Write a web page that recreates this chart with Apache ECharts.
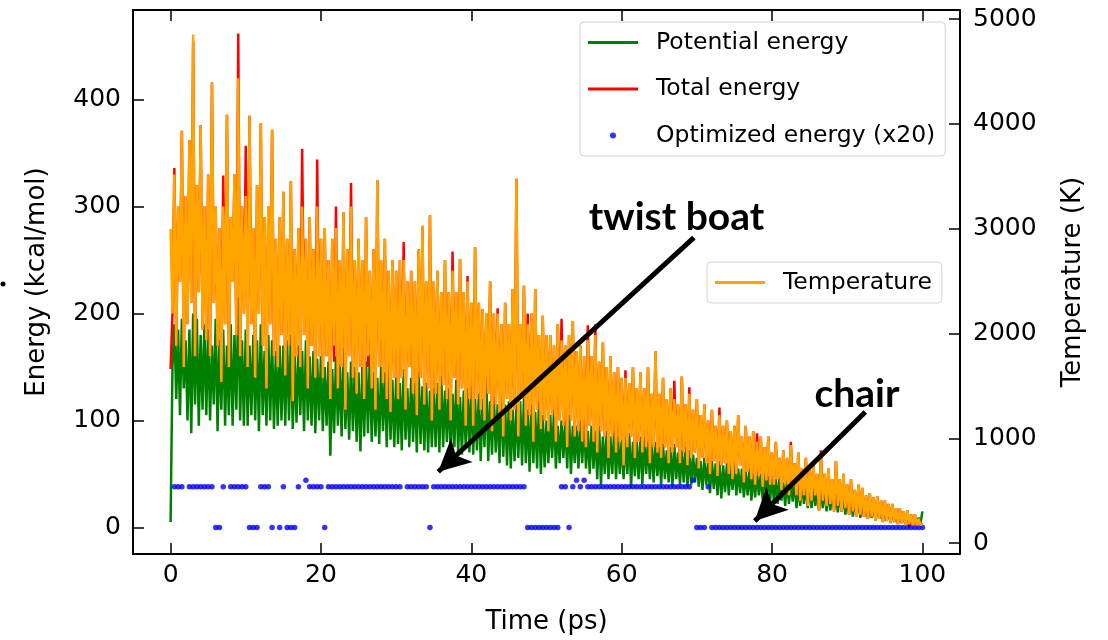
<!DOCTYPE html>
<html><head><meta charset="utf-8">
<script src="https://cdn.jsdelivr.net/npm/echarts@6/dist/echarts.min.js"></script>
<style>html,body{margin:0;padding:0;background:#fff}#c{width:1108px;height:640px}</style>
</head><body><div id="c"></div>
<script>
// Tick labels
const timeTicks = [0, 20, 40, 60, 80, 100];
const energyTicks = [0, 100, 200, 300, 400];
const tempTicks = [0, 1000, 2000, 3000, 4000, 5000];

// Line series sampled every 0.25 ps, 0..100 ps (each row = 5 ps)
const potentialEnergy = [
5,150,190,120,185,105,195,130,175,100,185,88,200,115,195,95,180,110,190,105,
185,100,170,115,195,90,175,110,185,95,170,105,190,95,180,110,215,100,175,95,
185,95,170,105,180,100,175,90,190,105,165,95,180,100,175,92,165,95,170,100,
170,95,175,100,180,92,160,98,170,105,165,90,175,100,160,95,165,88,158,100,
160,90,150,95,155,67,148,88,160,95,152,85,168,92,145,82,155,90,150,80,
145,71,150,85,155,88,162,80,145,85,140,78,150,90,145,75,152,82,138,75,
140,78,135,72,148,82,130,75,140,80,135,70,145,78,132,72,135,70,128,75,
130,75,135,70,142,75,128,80,130,68,125,75,138,70,122,68,128,75,130,70,
132,68,120,72,125,62,120,75,140,62,118,68,122,70,115,60,128,66,115,58,
118,55,110,62,115,65,118,58,122,60,110,52,115,60,108,55,118,50,105,56,
100,60,105,65,110,55,95,60,100,65,100,55,105,50,95,60,95,55,100,60,
100,55,90,50,95,55,90,45,95,40,85,50,90,45,85,50,90,45,85,50,
82,45,85,50,88,38,80,48,80,45,85,40,85,50,80,45,78,42,80,48,
75,40,78,45,72,42,75,38,78,45,70,40,72,42,75,38,72,40,68,42,
65,38,62,35,65,40,60,32,62,36,60,30,62,27,58,33,60,30,58,35,
60,30,55,32,55,28,52,30,55,25,50,28,52,30,50,26,52,28,48,25,
48,24,45,22,48,25,42,20,45,22,44,24,45,18,40,20,42,22,40,18,
40,18,38,20,36,16,38,18,36,15,35,16,34,17,32,14,32,15,30,12,
28,12,27,10,26,11,25,9,24,10,22,8,22,9,20,7,20,8,18,6,
17,6,16,5,15,5,14,4,13,4,12,3,12,3,10,3,10,3,9,4,
15];
const totalEnergy = [
148,200,336,170,300,230,371,150,310,190,362,210,455,160,320,220,376,185,300,175,
330,160,416,210,300,170,280,136,329,190,386,150,290,230,330,180,462,160,300,200,
357,150,385,190,280,140,320,200,378,170,290,130,300,190,372,160,270,150,290,180,
314,142,270,170,324,118,260,160,280,150,354,180,270,130,290,170,260,140,344,160,
270,140,280,160,250,120,270,155,300,130,250,150,295,110,260,160,322,140,250,125,
270,150,250,120,290,150,240,130,260,110,325,150,250,135,270,120,240,108,250,140,
240,120,250,140,267,110,230,150,240,125,230,105,260,140,282,115,230,130,292,100,
230,125,240,110,220,133,250,120,220,100,258,140,220,115,251,130,220,95,235,120,
210,95,262,120,210,110,204,100,200,125,230,90,200,115,205,105,190,85,210,120,
190,100,223,110,326,85,190,120,226,95,200,105,200,80,223,110,180,92,198,100,
180,90,180,105,170,80,190,100,195,95,170,75,180,100,193,85,165,90,170,80,
160,75,189,95,160,80,190,70,155,90,173,85,150,65,160,85,145,70,150,80,
140,58,147,75,135,85,150,65,130,80,145,70,130,75,150,60,125,75,165,70,
125,65,140,75,120,60,130,70,137,75,115,60,141,70,115,58,131,65,110,70,
120,55,105,65,115,60,100,50,110,62,95,48,112,58,95,60,100,50,90,45,
95,50,105,58,85,42,95,52,85,45,90,40,88,48,85,38,75,44,85,40,
70,40,80,45,65,35,72,40,65,30,80,38,60,30,70,25,55,30,65,20,
55,25,60,30,50,16,72,25,50,20,55,22,45,15,62,20,45,15,50,18,
40,12,45,15,35,10,40,12,37,10,30,8,32,10,28,6,29,8,25,5,
25,6,22,4,22,5,18,3,18,4,15,2,16,0,12,2,12,2,8,2,
4];
const temperature = [
2996,2190,3516,1884,3210,2496,3934,1680,3312,2088,3842,2292,4852,1782,3414,2394,3985,2037,3210,1935,
3516,1782,4393,2292,3210,1884,3006,1537,3210,2088,4087,1680,3108,2496,3516,1986,4434,1782,3210,2190,
3312,1680,4077,2088,3006,1578,3414,2190,4006,1884,3108,1476,3210,2088,3944,1782,2904,1680,3108,1986,
3353,1598,2904,1884,3455,1354,2802,1782,3006,1680,3210,1986,2904,1476,3108,1884,2802,1578,3210,1782,
2904,1578,3006,1782,2700,1374,2904,1884,3006,1476,2700,1680,3159,1272,2802,1782,3210,1578,2700,1425,
2904,1680,2700,1374,3108,1782,2598,1476,2802,1272,3465,1680,2700,1527,2904,1374,2598,1252,2700,1578,
2598,1374,2700,1578,2700,1272,2496,1680,2598,1425,2496,1221,2802,1578,3026,1323,2496,1476,3128,1170,
2496,1425,2598,1272,2394,1507,2700,1374,2394,1170,2598,1578,2394,1323,2710,1476,2394,1119,2496,1374,
2292,1119,2822,1374,2292,1272,2231,1170,2190,1425,2496,1068,2190,1323,2190,1221,2088,1017,2292,1374,
2088,1170,2425,1272,3475,1017,2088,1374,2455,1119,2088,1221,2190,966,2425,1272,1986,1088,2170,1170,
1986,1068,1986,1221,1884,966,2088,1170,1935,1119,1884,915,1986,1170,2119,1017,1833,1068,1884,966,
1782,915,1935,1119,1782,966,1986,864,1731,1068,1915,1017,1680,813,1782,1017,1629,864,1680,966,
1578,742,1578,915,1527,1017,1680,813,1476,966,1629,864,1476,915,1680,762,1425,915,1833,864,
1425,813,1578,915,1374,762,1476,864,1374,915,1323,762,1588,864,1323,742,1425,813,1272,864,
1374,711,1221,813,1323,762,1170,660,1272,782,1119,640,1221,742,1119,762,1170,660,1068,609,
1119,660,1221,742,1017,578,1119,680,1017,609,1068,558,966,640,1017,538,915,599,1017,558,
864,558,966,609,813,507,884,558,813,456,935,538,762,456,864,405,711,456,813,354,
711,405,762,456,660,313,833,405,660,354,711,374,609,303,782,354,609,303,660,334,
558,272,609,303,507,252,558,272,527,252,456,232,476,252,436,211,446,232,405,201,
405,211,374,191,374,201,334,181,334,191,303,170,313,181,272,170,272,170,232,170,
191];
// Optimized energy (x20), one value every 0.5 ps (each row = 10 ps)
const optimizedEnergy = [
null,38,38,38,null,38,38,38,38,38,38,38,0,0,38,null,38,38,38,38,
38,0,0,0,38,38,38,0,null,0,38,0,0,0,38,null,44,38,38,38,
38,0,38,38,38,38,38,38,38,38,38,38,38,38,38,38,38,38,38,38,
38,38,null,38,38,38,38,38,38,0,38,38,38,38,38,38,38,38,38,38,
38,38,38,38,38,38,38,38,38,38,38,38,38,38,38,0,0,0,0,0,
0,0,0,0,38,38,0,38,44,38,44,38,38,38,38,38,38,38,38,38,
38,38,38,38,38,38,38,38,38,38,38,38,38,38,38,38,38,38,38,44,
0,0,0,38,0,0,0,0,0,0,0,0,0,0,0,0,0,0,0,0,
0,0,0,0,0,0,0,0,0,0,0,0,0,0,0,0,0,0,0,0,
0,0,0,0,0,0,0,0,0,0,0,0,0,0,0,0,0,0,0,0,
0];

// Annotations (data coordinates: time ps, energy kcal/mol)
const twistBoatLabel = [67.3, 290];
const chairLabel = [91.3, 124];
const twistBoatArrow = [[69.6, 271], [35.6, 52]];
const chairArrow = [[92.4, 108], [77.7, 6]];

const lineTime = potentialEnergy.map((_, i) => i * 0.25);
const optTime = optimizedEnergy.map((_, i) => i * 0.5);
const pairLine = arr => lineTime.map((t, i) => [t, arr[i]]);

const FONT = 'DejaVu Sans';
const LINE_ICON = 'path://M0,0H50V3H0Z';
const chart = echarts.init(document.getElementById('c'), null, {renderer: 'canvas'});

const tickStyle = {color: '#000', width: 1.5};
const axisLineStyle = {color: '#000', width: 2};
const legendText = {fontSize: 23.5, fontFamily: FONT, color: '#000', lineHeight: 26, padding: [0, 0, 0, 13]};
const legendBox = {
  orient: 'vertical', itemWidth: 50, itemHeight: 6,
  textStyle: legendText, padding: [7.5, 10, 7.5, 8],
  backgroundColor: 'rgba(255,255,255,0.85)', borderColor: '#d4d4d4', borderWidth: 1, borderRadius: 4,
  selectedMode: false
};

chart.setOption({
  animation: false,
  backgroundColor: '#fff',
  grid: {left: 133, right: 148, top: 10, bottom: 84, containLabel: false},
  legend: [
    Object.assign({}, legendBox, {
      left: 580, top: 22, itemGap: 20.5,
      data: [
        {name: 'Potential energy', icon: LINE_ICON},
        {name: 'Total energy', icon: LINE_ICON},
        {name: 'Optimized energy (x20)', icon: 'circle'}
      ]
    }),
    Object.assign({}, legendBox, {
      left: 707, top: 262,
      data: [{name: 'Temperature', icon: LINE_ICON}]
    })
  ],
  xAxis: [
    {
      type: 'value', position: 'bottom', min: -5, max: 105,
      axisLine: {onZero: false, lineStyle: axisLineStyle},
      axisTick: {inside: true, length: 11, lineStyle: tickStyle, customValues: timeTicks},
      axisLabel: {customValues: timeTicks, fontSize: 25, fontFamily: FONT, color: '#000', margin: 9},
      splitLine: {show: false},
      name: 'Time (ps)', nameLocation: 'middle', nameGap: 55,
      nameTextStyle: {fontSize: 26, fontFamily: FONT, color: '#000'}
    },
    {
      type: 'value', position: 'top', min: -5, max: 105,
      axisLine: {onZero: false, lineStyle: axisLineStyle},
      axisTick: {inside: true, length: 11, lineStyle: tickStyle, customValues: timeTicks},
      axisLabel: {show: false},
      splitLine: {show: false}
    }
  ],
  yAxis: [
    {
      type: 'value', position: 'left', min: -24.9, max: 483.9,
      axisLine: {show: true, onZero: false, lineStyle: axisLineStyle},
      axisTick: {show: true, inside: true, length: 11, lineStyle: tickStyle, customValues: energyTicks},
      axisLabel: {customValues: energyTicks, fontSize: 25, fontFamily: FONT, color: '#000', margin: 12,
                  formatter: v => String(v)},
      splitLine: {show: false},
      name: 'Energy (kcal/mol)', nameLocation: 'middle', nameGap: 83, nameRotate: 90,
      nameTextStyle: {fontSize: 26, fontFamily: FONT, color: '#000'}
    },
    {
      type: 'value', position: 'right', min: -104, max: 5086,
      axisLine: {show: true, onZero: false, lineStyle: axisLineStyle},
      axisTick: {show: true, inside: true, length: 11, lineStyle: tickStyle, customValues: tempTicks},
      axisLabel: {customValues: tempTicks, fontSize: 25, fontFamily: FONT, color: '#000', margin: 13,
                  formatter: v => String(v)},
      splitLine: {show: false},
      name: 'Temperature (K)', nameLocation: 'middle', nameGap: 100, nameRotate: 90,
      nameTextStyle: {fontSize: 26, fontFamily: FONT, color: '#000'}
    }
  ],
  graphic: [
    {type: 'circle', shape: {cx: 3, cy: 284, r: 2.5}, style: {fill: '#000'}, silent: true}
  ],
  series: [
    {
      name: 'Potential energy', type: 'line', xAxisIndex: 0, yAxisIndex: 0, z: 2,
      data: pairLine(potentialEnergy), symbol: 'none', showSymbol: false,
      lineStyle: {color: '#008000', width: 2.5}, itemStyle: {color: '#008000'},
      silent: true,
      markLine: {
        silent: true, animation: false, z: 20,
        symbol: ['none', 'arrow'], symbolSize: [24, 32],
        lineStyle: {color: '#000', width: 5, type: 'solid'},
        label: {show: false}, emphasis: {disabled: true},
        data: [
          [{coord: twistBoatArrow[0]}, {coord: twistBoatArrow[1]}],
          [{coord: chairArrow[0]}, {coord: chairArrow[1]}]
        ]
      },
      markPoint: {
        silent: true, animation: false, z: 20,
        symbol: 'circle', symbolSize: 1, itemStyle: {color: 'rgba(0,0,0,0)'},
        label: {show: true, position: 'inside', color: '#000', fontFamily: 'Lato', fontWeight: 'bold', fontSize: 39, formatter: p => p.name},
        data: [
          {name: 'twist boat', coord: twistBoatLabel},
          {name: 'chair', coord: chairLabel}
        ]
      }
    },
    {
      name: 'Total energy', type: 'line', xAxisIndex: 0, yAxisIndex: 0, z: 3,
      data: pairLine(totalEnergy), symbol: 'none', showSymbol: false,
      lineStyle: {color: '#ff0000', width: 2.5}, itemStyle: {color: '#ff0000'}, silent: true
    },
    {
      name: 'Optimized energy (x20)', type: 'scatter', xAxisIndex: 0, yAxisIndex: 0, z: 4,
      data: optTime.map((t, i) => [t, optimizedEnergy[i]]).filter(d => d[1] !== null),
      symbol: 'circle', symbolSize: 5.5, itemStyle: {color: '#0000ff'}, silent: true
    },
    {
      name: 'Temperature', type: 'line', xAxisIndex: 0, yAxisIndex: 1, z: 5,
      data: pairLine(temperature), symbol: 'none', showSymbol: false,
      lineStyle: {color: '#ffa500', width: 2.5}, itemStyle: {color: '#ffa500'}, silent: true
    }
  ]
});
</script></body></html>
